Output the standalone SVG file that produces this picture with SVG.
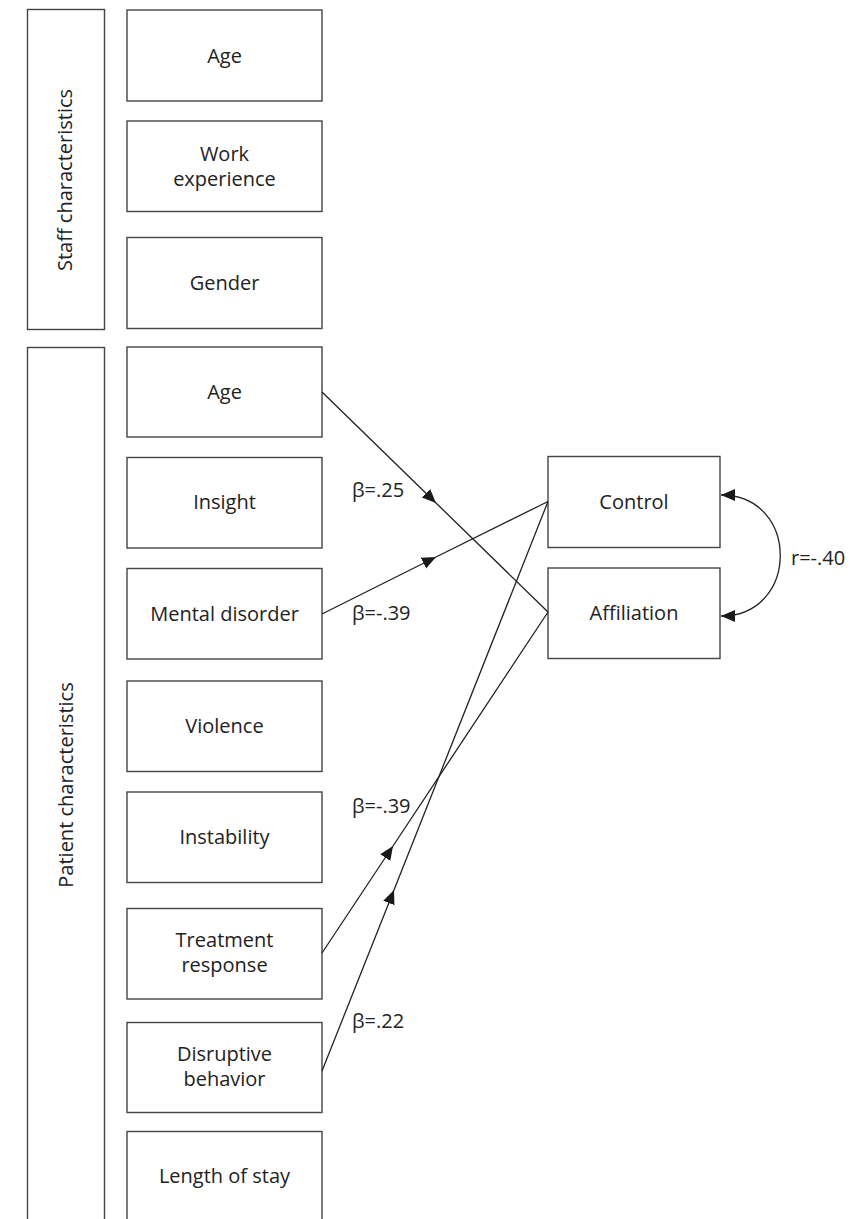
<svg xmlns="http://www.w3.org/2000/svg" width="865" height="1219" viewBox="0 0 865 1219">
<style>
.box{fill:#fff;stroke:#444;stroke-width:1.4}
.t{font-family:"Open Sans","Liberation Sans",sans-serif;font-size:20px;fill:#222;text-anchor:middle}
.lbl{font-family:"Open Sans","Liberation Sans",sans-serif;font-size:20px;fill:#222}
.c{fill:none;stroke:#222;stroke-width:1.3}
</style>
<defs>
<marker id="ah" markerUnits="userSpaceOnUse" markerWidth="16" markerHeight="14" refX="14" refY="6" orient="auto">
<path d="M0,0 L14,6 L0,12 z" fill="#1a1a1a"/>
</marker>
<marker id="ah2" markerUnits="userSpaceOnUse" markerWidth="16" markerHeight="14" refX="14" refY="6" orient="auto-start-reverse">
<path d="M0,0 L14,6 L0,12 z" fill="#1a1a1a"/>
</marker>
</defs>
<rect width="865" height="1219" fill="#fff"/>
<g id="staff">
<rect class="box" x="27.5" y="9.5" width="77" height="320"/>
<text class="t" transform="translate(72,180) rotate(-90)">Staff characteristics</text>
</g>
<g id="patient">
<rect class="box" x="27.5" y="347.5" width="77" height="900"/>
<text class="t" transform="translate(73,785) rotate(-90)">Patient characteristics</text>
</g>
<g id="s-age"><rect class="box" x="127" y="10" width="195" height="91"/><text class="t" x="224.5" y="63">Age</text></g>
<g id="s-work"><rect class="box" x="127" y="121" width="195" height="90.5"/><text class="t" x="224.5" y="161">Work</text><text class="t" x="224.5" y="186">experience</text></g>
<g id="s-gender"><rect class="box" x="127" y="237.5" width="195" height="91"/><text class="t" x="224.5" y="290">Gender</text></g>
<g id="p-age"><rect class="box" x="127" y="347" width="195" height="90"/><text class="t" x="224.5" y="399">Age</text></g>
<g id="p-insight"><rect class="box" x="127" y="457.5" width="195" height="90.5"/><text class="t" x="224.5" y="509">Insight</text></g>
<g id="p-mental"><rect class="box" x="127" y="568.5" width="195" height="90.5"/><text class="t" x="224.5" y="621">Mental disorder</text></g>
<g id="p-violence"><rect class="box" x="127" y="681" width="195" height="90.5"/><text class="t" x="224.5" y="733">Violence</text></g>
<g id="p-instability"><rect class="box" x="127" y="792" width="195" height="90.5"/><text class="t" x="224.5" y="844">Instability</text></g>
<g id="p-treatment"><rect class="box" x="127" y="908.5" width="195" height="90.5"/><text class="t" x="224.5" y="947">Treatment</text><text class="t" x="224.5" y="972">response</text></g>
<g id="p-disruptive"><rect class="box" x="127" y="1022.5" width="195" height="90"/><text class="t" x="224.5" y="1061">Disruptive</text><text class="t" x="224.5" y="1086">behavior</text></g>
<g id="p-length"><rect class="box" x="127" y="1131.5" width="195" height="100"/><text class="t" x="224.5" y="1183">Length of stay</text></g>
<g id="control"><rect class="box" x="548" y="456.5" width="172" height="91"/><text class="t" x="634" y="509">Control</text></g>
<g id="affiliation"><rect class="box" x="548" y="568" width="172" height="90.5"/><text class="t" x="634" y="620">Affiliation</text></g>
<g id="connectors">
<path class="c" d="M322,392 L436,503 L548,612" marker-mid="url(#ah)"/>
<path class="c" d="M322,614 L436,557 L548,501.5" marker-mid="url(#ah)"/>
<path class="c" d="M322,953 L393,846 L548,612" marker-mid="url(#ah)"/>
<path class="c" d="M322,1071 L394,890 L548,501.5" marker-mid="url(#ah)"/>
<path class="c" d="M721,495 C800,495 800,616 721,616" marker-start="url(#ah2)" marker-end="url(#ah2)"/>
</g>
<g id="labels">
<text class="lbl" x="352" y="497">β=.25</text>
<text class="lbl" x="352" y="620">β=-.39</text>
<text class="lbl" x="352" y="813">β=-.39</text>
<text class="lbl" x="352" y="1028">β=.22</text>
<text class="lbl" x="791" y="565">r=-.40</text>
</g>
</svg>
